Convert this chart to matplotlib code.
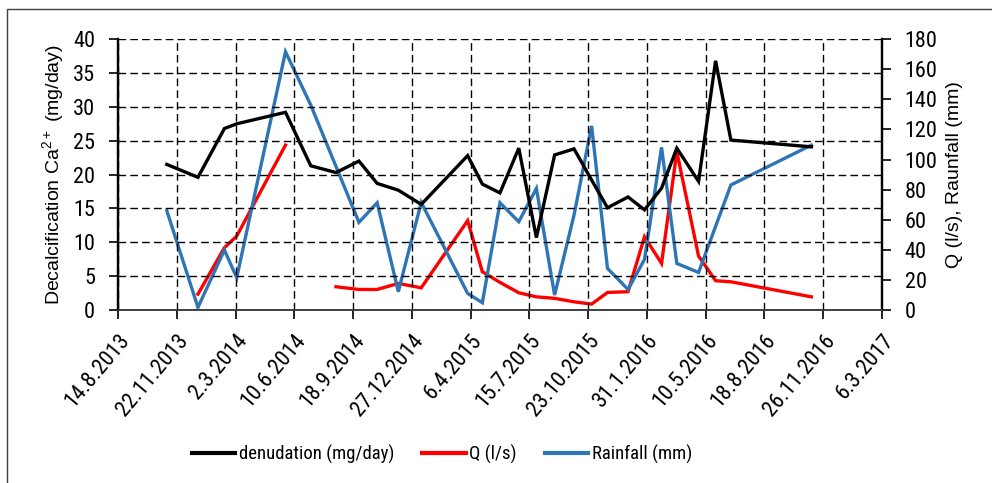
"""Karst denudation vs. discharge and rainfall, 2013-2016."""

from datetime import date, timedelta

import matplotlib

matplotlib.use("Agg")

import matplotlib.pyplot as plt
import matplotlib.dates as mdates
import numpy as np
from matplotlib.lines import Line2D
from matplotlib.patches import Rectangle

plt.rcParams["font.family"] = ["Liberation Sans", "DejaVu Sans"]
NARROW = ["Roboto Condensed", "Liberation Sans", "DejaVu Sans"]

# Sampling dates shared by the three series (NaN = no measurement)
sample_dates = [
    "2013-11-05", "2013-12-28", "2014-02-11", "2014-03-04", "2014-05-26",
    "2014-07-08", "2014-08-20", "2014-09-28", "2014-10-29", "2014-12-04",
    "2015-01-12", "2015-04-01", "2015-04-26", "2015-05-26", "2015-06-27",
    "2015-07-27", "2015-08-27", "2015-09-29", "2015-10-29", "2015-11-25",
    "2015-12-30", "2016-01-27", "2016-02-25", "2016-03-22", "2016-04-28",
    "2016-05-27", "2016-06-22", "2016-11-06",
]
nan = np.nan
denudation = [
    21.5, 19.6, 26.8, 27.5, 29.2, 21.3, 20.3, 22.0, 18.7, 17.7,
    15.6, 22.8, 18.6, 17.3, 23.9, 10.7, 22.9, 23.8, 19.2, 15.1,
    16.7, 14.8, 18.0, 23.9, 19.0, 36.8, 25.1, 24.1,
]
discharge = [
    nan, 10.6, 41.4, 49.2, 109.6, nan, 15.5, 13.7, 13.7, 17.7,
    14.8, 59.4, 25.5, 18.4, 11.5, 8.8, 7.8, 5.5, 4.0, 11.7,
    12.2, 48.7, 31.0, 105.2, 35.9, 19.5, 18.8, 8.8,
]
rainfall = [
    66.0, 1.8, 39.9, 21.5, 171.6, 136.2, nan, 58.3, 71.3, 12.2,
    71.5, 11.1, 4.9, 71.3, 58.7, 80.8, 10.0, 63.1, 122.3, 27.7,
    13.7, 33.7, 108.1, 31.0, 25.0, nan, 83.1, 109.6,
]

axis_start = date(2013, 8, 14)
tick_dates = [axis_start + timedelta(days=100 * i) for i in range(14)]
tick_labels = [f"{d.day}.{d.month}.{d.year}" for d in tick_dates]

x = mdates.datestr2num(sample_dates)
den = np.asarray(denudation)
q = np.asarray(discharge)
rain = np.asarray(rainfall)

TICK_FS = 16
LABEL_FS = 14
LEGEND_FS = 13.5
C_DEN, C_Q, C_RAIN = "#000000", "#ff0000", "#2e75b6"

fig = plt.figure(figsize=(9.92, 4.83), dpi=100)
ax = fig.add_axes([0.119, 0.358, 0.770, 0.561])
ax2 = ax.twinx()

# Rainfall and denudation bridge missing samples, Q breaks at gaps
ok = ~np.isnan(den)
ax.plot(x[ok], den[ok], color=C_DEN, lw=2.4, solid_joinstyle="miter", zorder=4)
ok = ~np.isnan(rain)
ax2.plot(x[ok], rain[ok], color=C_RAIN, lw=2.4, solid_joinstyle="miter", zorder=3)
ax2.plot(x, q, color=C_Q, lw=2.4, solid_joinstyle="miter", zorder=2)
ax.set_zorder(ax2.get_zorder() + 1)
ax.patch.set_visible(False)

ax.set_xlim(mdates.date2num(tick_dates[0]), mdates.date2num(tick_dates[-1]))
ax.set_xticks(mdates.date2num(tick_dates))
ax.set_xticklabels(tick_labels, rotation=50, ha="right", va="top",
                   rotation_mode="anchor", fontsize=TICK_FS, family=NARROW)
ax.set_ylim(0, 40)
ax.set_yticks(np.arange(0, 41, 5))
ax2.set_ylim(0, 180)
ax2.set_yticks(np.arange(0, 181, 20))

ax.grid(True, color="black", linestyle=(0, (5.5, 3)), linewidth=1.0)
ax.tick_params(axis="both", direction="out", length=6.5, width=1.2,
               labelsize=TICK_FS, pad=10, colors="black")
ax.tick_params(axis="x", pad=8)
ax2.tick_params(axis="y", direction="out", length=6.5, width=1.2,
                labelsize=TICK_FS, pad=10)
for lbl in ax.get_yticklabels() + ax2.get_yticklabels():
    lbl.set_family(NARROW)

for a in (ax, ax2):
    a.spines["top"].set_visible(False)
    a.spines["left"].set_linewidth(1.6)
    a.spines["right"].set_linewidth(1.6)
    a.spines["bottom"].set_linewidth(1.2)
    a.spines["bottom"].set_color("#404040")

ax.set_ylabel("Decalcification Ca$^{\\mathregular{2+}}$ (mg/day)",
              fontsize=LABEL_FS, labelpad=4)
ax2.set_ylabel("Q (l/s), Raunfall (mm)", fontsize=LABEL_FS, labelpad=6)

handles = [
    Line2D([], [], color=C_DEN, lw=3),
    Line2D([], [], color=C_Q, lw=3),
    Line2D([], [], color=C_RAIN, lw=3),
]
fig.legend(handles, ["denudation (mg/day)", "Q (l/s)", "Rainfall (mm)"],
           loc="center", bbox_to_anchor=(0.4456, 0.060), ncol=3, frameon=False,
           prop={"family": NARROW, "size": LEGEND_FS},
           handlelength=2.3, handletextpad=0.2, columnspacing=1.5)

# outer chart-area frame
fig.patches.append(Rectangle((7 / 992, -0.05), 1.2, 1 - 9 / 483 + 0.05,
                             transform=fig.transFigure, fill=False,
                             edgecolor="#404040", lw=1.0))

fig.savefig("out.png", dpi=100)
